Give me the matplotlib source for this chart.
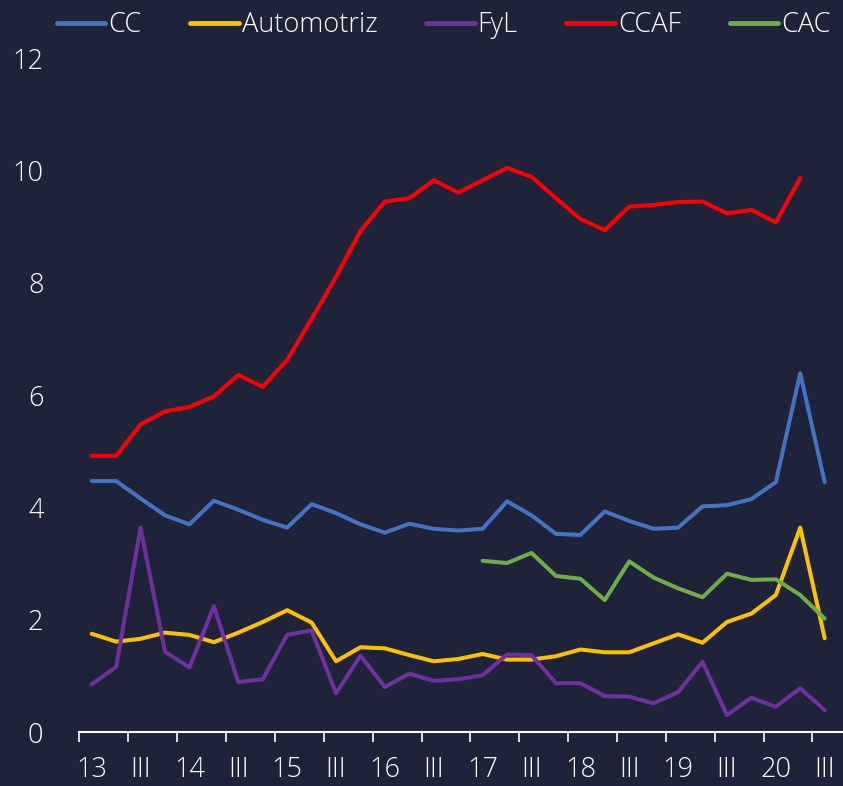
import numpy as np
import matplotlib
matplotlib.use("Agg")
from matplotlib import pyplot as plt

# quarterly labels, 2013 Q1 .. 2020 Q3
years = ['13', '14', '15', '16', '17', '18', '19', '20']
quarters = []
for y in years:
    quarters += [y + ' I', y + ' II', y + ' III', y + ' IV']
quarters = quarters[:31]
tick_labels = []
for y in years:
    tick_labels += [y, 'III']

cc = [4.47, 4.47, 4.16, 3.86, 3.70, 4.12, 3.96, 3.78, 3.64, 4.06,
      3.90, 3.70, 3.55, 3.71, 3.62, 3.59, 3.62, 4.11, 3.86, 3.53,
      3.51, 3.93, 3.76, 3.62, 3.64, 4.02, 4.04, 4.15, 4.45, 6.39, 4.45]
automotriz = [1.75, 1.61, 1.66, 1.77, 1.73, 1.60, 1.77, 1.96, 2.17, 1.95,
              1.26, 1.51, 1.49, 1.37, 1.26, 1.30, 1.39, 1.29, 1.29, 1.35,
              1.47, 1.42, 1.42, 1.58, 1.74, 1.59, 1.96, 2.11, 2.44, 3.64, 1.67]
fyl = [0.85, 1.16, 3.64, 1.43, 1.15, 2.24, 0.89, 0.94, 1.73, 1.81,
       0.69, 1.36, 0.80, 1.04, 0.91, 0.94, 1.01, 1.38, 1.37, 0.87,
       0.87, 0.64, 0.63, 0.51, 0.71, 1.25, 0.30, 0.61, 0.45, 0.78, 0.39]
ccaf = [4.92, 4.92, 5.48, 5.71, 5.79, 5.98, 6.36, 6.15, 6.63, 7.36,
        8.11, 8.93, 9.45, 9.51, 9.83, 9.61, 9.83, 10.05, 9.89, 9.51,
        9.14, 8.94, 9.36, 9.39, 9.44, 9.45, 9.24, 9.30, 9.08, 9.87, np.nan]
cac = [np.nan] * 16 + [3.05, 3.01, 3.19, 2.78, 2.73, 2.35, 3.04, 2.75,
                       2.56, 2.40, 2.82, 2.71, 2.72, 2.44, 2.02]

series = [('CC', cc, '#4472c4'), ('Automotriz', automotriz, '#ffc000'),
          ('FyL', fyl, '#7030a0'), ('CCAF', ccaf, '#ff0000'),
          ('CAC', cac, '#70ad47')]

bg = '#1f233a'
plt.rcParams['font.family'] = ['Open Sans', 'DejaVu Sans']
plt.rcParams['font.weight'] = 'light'

fig = plt.figure(figsize=(8.43, 7.86), dpi=100, facecolor=bg)
ax = fig.add_axes([0.0943, 0.0687, 0.9057, 0.857], facecolor=bg)

x = np.arange(len(quarters))
for name, vals, col in series:
    ax.plot(x, vals, color=col, lw=2.9, label=name, solid_capstyle='round')

ax.set_xlim(-0.5, 30.75)
ax.set_ylim(0, 12)
ax.set_yticks(range(0, 13, 2))
ax.set_xticks(x[::2])
ax.set_xticklabels(tick_labels[:len(x[::2])])
ax.set_xticks(np.arange(-0.5, 31, 2), minor=True)

for s in ['top', 'right', 'left']:
    ax.spines[s].set_visible(False)
ax.spines['bottom'].set_color('white')
ax.spines['bottom'].set_linewidth(1.5)
ax.tick_params(axis='x', which='major', length=0, pad=17, labelsize=19.5,
               colors='white')
ax.tick_params(axis='x', which='minor', length=7, width=1.2, color='white')
ax.tick_params(axis='y', length=0, pad=26, labelsize=19.5, colors='white')

leg = ax.legend(loc='lower center', bbox_to_anchor=(0.477, 1.012), ncol=5,
                frameon=False, fontsize=19.5, handlelength=1.8,
                handletextpad=0.1, columnspacing=1.8, labelcolor='white',
                borderaxespad=0.2, borderpad=0.2)
for h in leg.get_lines():
    h.set_linewidth(3.5)

plt.savefig("out.png", dpi=100, facecolor=bg)
